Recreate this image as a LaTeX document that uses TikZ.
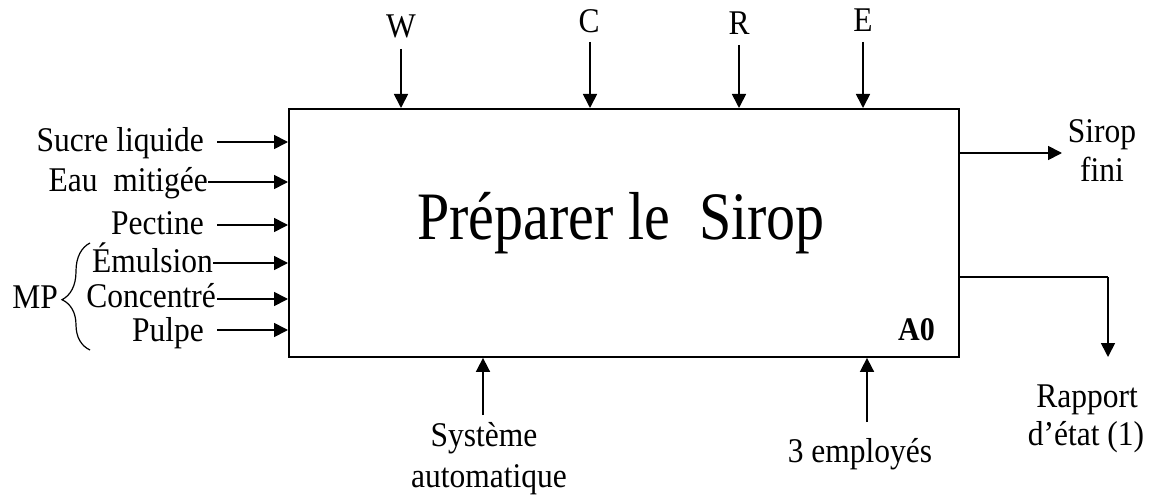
\documentclass[tikz,border=0pt]{standalone}
\usepackage{graphicx}
\usepackage{fontspec}
\setmainfont{Liberation Serif}
\usetikzlibrary{arrows.meta,decorations.pathreplacing}
\newcommand\vst[1]{\scalebox{1}[1.1]{#1}}
\begin{document}
\begin{tikzpicture}[x=1pt,y=-1pt,
  lbl/.style={inner sep=0pt,font=\fontsize{31.5}{38}\selectfont},
  arr/.style={line width=1.7pt,-{Triangle[length=14pt,width=14pt]}},
  boxstyle/.style={draw,line width=1.9pt,minimum width=670pt,minimum height=248pt,inner sep=0pt}
]
\useasboundingbox (0,0) rectangle (1151,497);
% main activity box
\node[boxstyle,anchor=north west] (box) at (288,108) {};
\node[inner sep=0pt,font=\fontsize{58}{68}\selectfont,anchor=base] (title) at (621,240) {\scalebox{1}[1.17]{Préparer le\ \ Sirop}};
\node[inner sep=0pt,font=\bfseries\fontsize{30}{36}\selectfont,anchor=base east] (a0) at (935,340) {\vst{A0}};
% controls (top)
\node[lbl,anchor=base] (lw) at (401,38) {\vst{W}};
\node[lbl,anchor=base] (lc) at (589,33) {\vst{C}};
\node[lbl,anchor=base] (lr) at (739,35) {\vst{R}};
\node[lbl,anchor=base] (le) at (863,32) {\vst{E}};
\coordinate (cw) at (401,49);
\coordinate (cc) at (590,42);
\coordinate (cr) at (739,45);
\coordinate (ce) at (863,42);
\foreach \c in {cw,cc,cr,ce} \draw[arr] (\c) -- (\c |- box.north);
% inputs (left)
\node[lbl,anchor=base east] (i1) at (204,152) {\vst{Sucre liquide}};
\node[lbl,anchor=base east] (i2) at (208,192) {\vst{Eau\ \ mitigée}};
\node[lbl,anchor=base east] (i3) at (204,235) {\vst{Pectine}};
\node[lbl,anchor=base east] (i4) at (213,272) {\vst{Émulsion}};
\node[lbl,anchor=base east] (i5) at (216,307) {\vst{Concentré}};
\node[lbl,anchor=base east] (i6) at (204,341) {\vst{Pulpe}};
\coordinate (s1) at (217,142);
\coordinate (s2) at (208,182);
\coordinate (s3) at (217,225);
\coordinate (s4) at (213,263);
\coordinate (s5) at (217,299);
\coordinate (s6) at (217,330);
\foreach \s in {s1,s2,s3,s4,s5,s6} \draw[arr] (\s) -- (\s -| box.west);
% brace MP
\coordinate (bb) at (90,350);
\coordinate (bt) at (90,243);
\draw[line width=1.2pt,decorate,decoration={brace,amplitude=28pt,aspect=0.47}] (bb) -- (bt);
\node[lbl,anchor=base east] (mp) at (58,308) {\vst{MP}};
% outputs (right)
\coordinate (o1) at (1062,153);
\draw[arr] (box.east |- o1) -- (o1);
\node[lbl,anchor=base] (so1) at (1102,143) {\vst{Sirop}};
\node[lbl,anchor=base] (so2) at (1102,182) {\vst{fini}};
\coordinate (r0) at (958,277);
\coordinate (r1) at (1108,277);
\coordinate (r2) at (1108,357);
\draw[line width=1.7pt] (box.east |- r0) -- (r1);
\draw[arr] (r1) -- (r2);
\node[lbl,anchor=base] (ra1) at (1087,407) {\vst{Rapport}};
\node[lbl,anchor=base] (ra2) at (1086,445) {\vst{d’état (1)}};
% mechanisms (bottom)
\coordinate (m1) at (483,415);
\coordinate (m2) at (867,422);
\draw[arr] (m1) -- (m1 |- box.south);
\draw[arr] (m2) -- (m2 |- box.south);
\node[lbl,anchor=base] (me1) at (484,446) {\vst{Système}};
\node[lbl,anchor=base] (me2) at (489,487) {\vst{automatique}};
\node[lbl,anchor=base] (me3) at (860,462) {\vst{3 employés}};
\end{tikzpicture}
\end{document}
